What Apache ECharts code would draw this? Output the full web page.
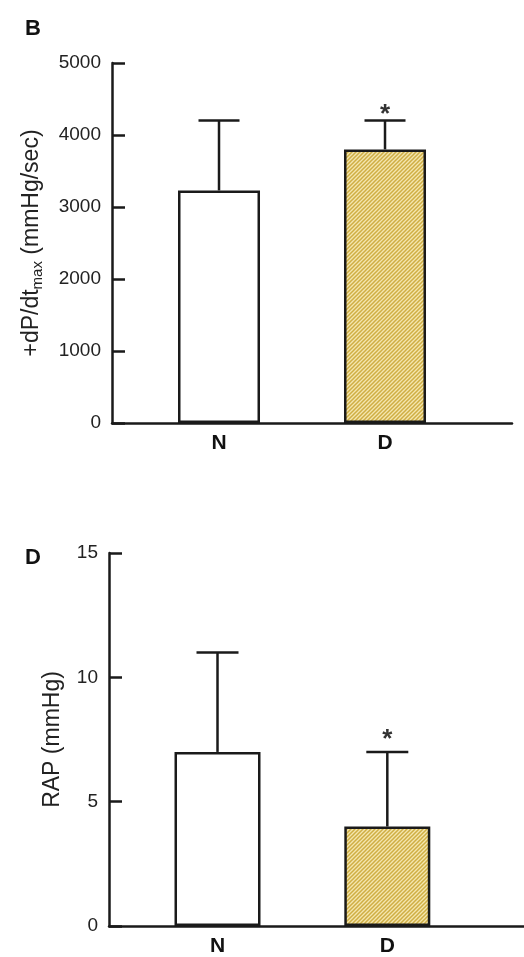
<!DOCTYPE html>
<html><head><meta charset="utf-8">
<script src="https://cdn.jsdelivr.net/npm/echarts@6/dist/echarts.min.js"></script>
<style>html,body{margin:0;padding:0;background:#fff}#c{width:524px;height:957px}</style>
</head><body><div id="c"></div>
<script>
// ---- data ----
const categories = ['N', 'D'];
const catPos = [1, 2];
const dpdtMean = [3230, 3800];
const dpdtSD = [970, 400];
const dpdtSig = [false, true];
const dpdtTicks = [0, 1000, 2000, 3000, 4000, 5000];
const rapMean = [7, 4];
const rapSD = [4, 3];
const rapSig = [false, true];
const rapTicks = [0, 5, 10, 15];

// hatch pattern
const pc = document.createElement('canvas');
pc.width = 4; pc.height = 4;
const g = pc.getContext('2d');
g.fillStyle = '#f4e6ae'; g.fillRect(0, 0, 4, 4);
g.strokeStyle = '#cfae44'; g.lineWidth = 1.5;
g.beginPath();
g.moveTo(-1, 5); g.lineTo(5, -1);
g.moveTo(-3, 3); g.lineTo(3, -3);
g.moveTo(1, 7); g.lineTo(7, 1);
g.stroke();
const hatch = { image: pc, repeat: 'repeat' };

const font = '"Liberation Sans", Arial, sans-serif';
const axisCol = '#1a1a1a';

function barData(means) {
  return means.map((m, i) => ({
    value: [catPos[i], m],
    itemStyle: { color: i === 0 ? '#ffffff' : hatch, borderColor: axisCol, borderWidth: 2.5 }
  }));
}
function errData(means, sds, sig) {
  return means.map((m, i) => [catPos[i], m + sds[i], m, sig[i] ? 1 : 0]);
}
function errSeries(xi, means, sds, sig, capHalf, starOff) {
  return {
    type: 'custom', xAxisIndex: xi, yAxisIndex: xi, z: 5,
    data: errData(means, sds, sig),
    renderItem: function (params, api) {
      const x = api.value(0), top = api.value(1), base = api.value(2), s = api.value(3);
      const p0 = api.coord([x, base]), p1 = api.coord([x, top]);
      const st = { stroke: axisCol, lineWidth: 2.5 };
      const ch = [
        { type: 'line', shape: { x1: p0[0], y1: p0[1], x2: p1[0], y2: p1[1] }, style: st },
        { type: 'line', shape: { x1: p1[0] - capHalf, y1: p1[1], x2: p1[0] + capHalf, y2: p1[1] }, style: st }
      ];
      if (s) ch.push({ type: 'text', style: { text: '*', x: p1[0], y: p1[1] - starOff, align: 'center', verticalAlign: 'middle', font: 'bold 26px ' + font, fill: '#333' } });
      return { type: 'group', children: ch };
    }
  };
}
function yAx(gi, ticks, name, nameGap, rich) {
  return {
    gridIndex: gi, type: 'value', min: ticks[0], max: ticks[ticks.length - 1], interval: ticks[1] - ticks[0],
    splitLine: { show: false },
    axisLine: { show: true, lineStyle: { color: axisCol, width: 2.5 } },
    axisTick: { show: true, inside: true, length: 13, lineStyle: { color: axisCol, width: 2.5 } },
    axisLabel: { margin: 11, color: '#222', fontSize: 19, fontFamily: font, formatter: v => String(v) },
    name: name, nameLocation: 'middle', nameGap: nameGap, nameRotate: 90,
    nameTextStyle: { color: '#222', fontSize: 23, fontFamily: font, rich: rich }
  };
}
function xAx(gi, min, max) {
  return {
    gridIndex: gi, type: 'value', min: min, max: max,
    splitLine: { show: false },
    axisLine: { show: true, onZero: false, lineStyle: { color: axisCol, width: 2.5 } },
    axisTick: { show: false },
    axisLabel: {
      customValues: catPos, margin: 10, color: '#111', fontSize: 21, fontWeight: 'bold', fontFamily: font,
      formatter: v => categories[catPos.indexOf(Math.round(v))] || ''
    }
  };
}

const chart = echarts.init(document.getElementById('c'), null, { renderer: 'canvas' });
chart.setOption({
  animation: false,
  backgroundColor: '#fff',
  title: [
    { text: 'B', left: 20, top: 13, textStyle: { fontSize: 22, fontWeight: 'bold', fontFamily: font, color: '#111' } },
    { text: 'D', left: 20, top: 542, textStyle: { fontSize: 22, fontWeight: 'bold', fontFamily: font, color: '#111' } }
  ],
  grid: [
    { left: 112, top: 63, width: 400, height: 360 },
    { left: 109, top: 553, width: 430, height: 378 }
  ],
  xAxis: [xAx(0, 0.3554, 2.765), xAx(1, 0.361, 2.805)],
  yAxis: [
    yAx(0, dpdtTicks, '+dP/dt{sub|max} (mmHg/sec)', 67, { sub: { fontSize: 15, fontFamily: font, color: '#222', padding: [11, 0, 0, 0] } }),
    yAx(1, rapTicks, 'RAP (mmHg)', 45)
  ],
  series: [
    { type: 'bar', xAxisIndex: 0, yAxisIndex: 0, barWidth: 82, data: barData(dpdtMean), z: 3 },
    errSeries(0, dpdtMean, dpdtSD, dpdtSig, 20.5, 6),
    { type: 'bar', xAxisIndex: 1, yAxisIndex: 1, barWidth: 86, data: barData(rapMean), z: 3 },
    errSeries(1, rapMean, rapSD, rapSig, 21, 12)
  ]
});
</script></body></html>
